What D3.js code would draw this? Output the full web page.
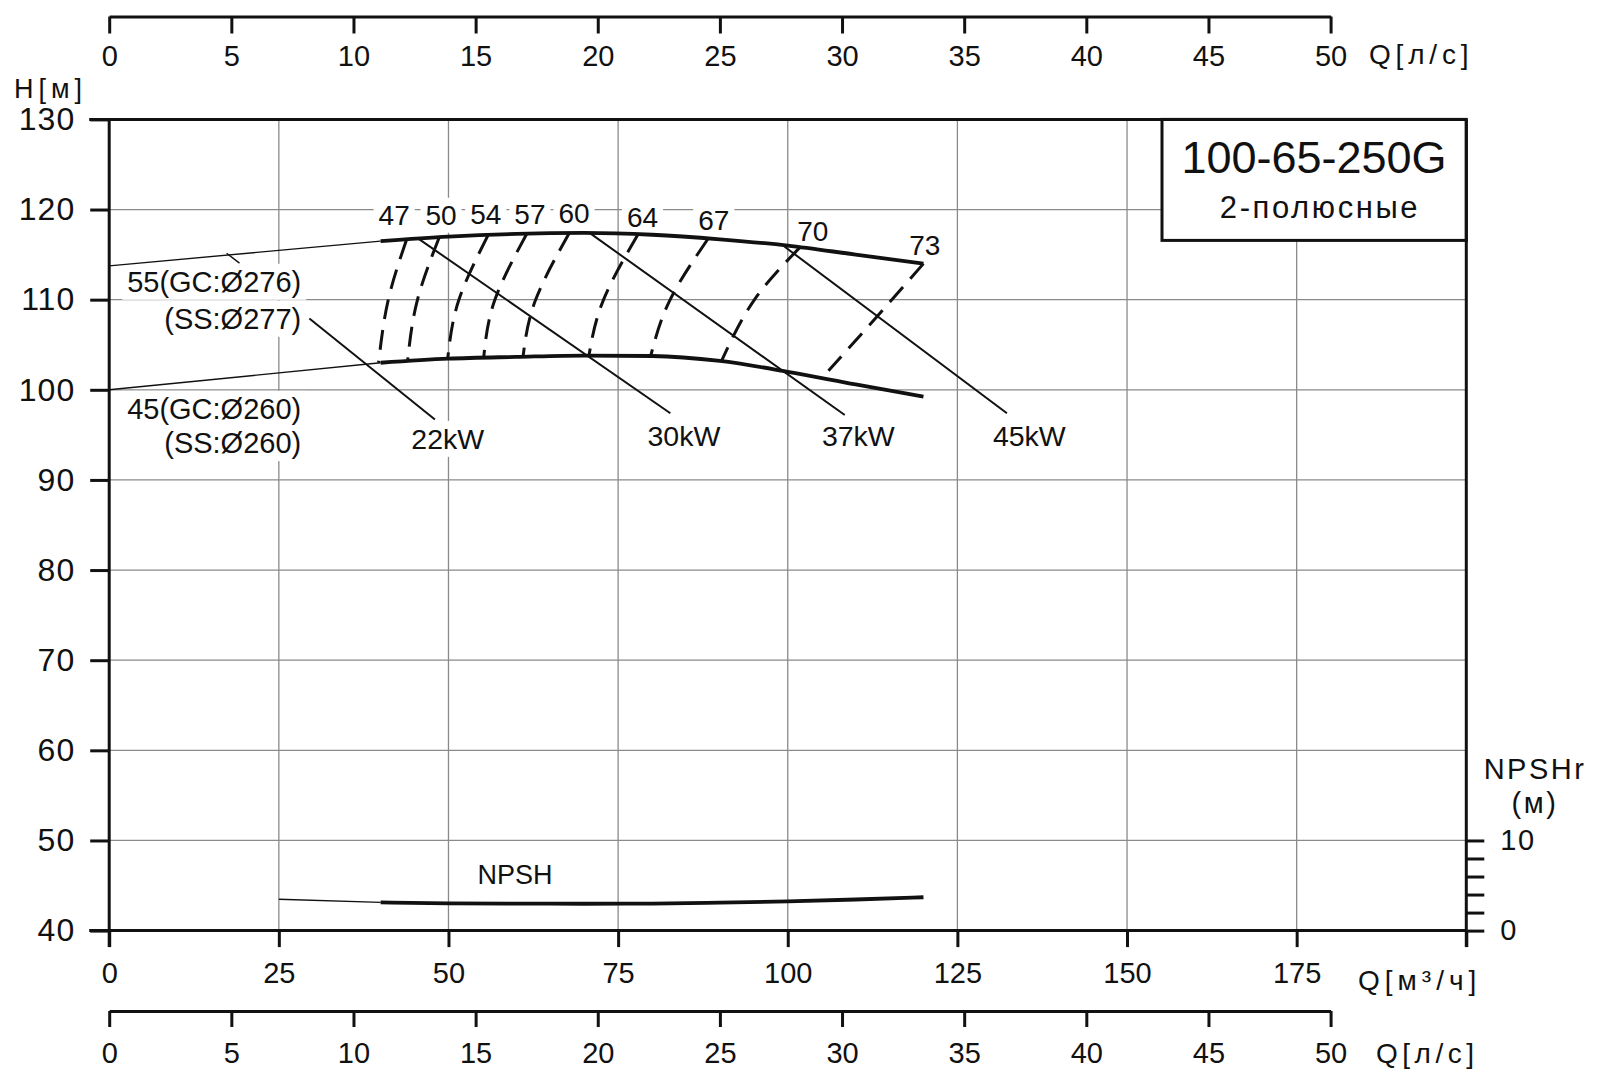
<!DOCTYPE html>
<html>
<head>
<meta charset="utf-8">
<script src="https://cdn.jsdelivr.net/npm/d3@7"></script>
<style>
  body { margin: 0; background: #fff; }
  text { font-family: "Liberation Sans", Arial, sans-serif; fill: #111; }
</style>
</head>
<body>
<script>
// axis ticks
var qM3hTicks = [0, 25, 50, 75, 100, 125, 150, 175, 200];
var qLsTicks = [0, 5, 10, 15, 20, 25, 30, 35, 40, 45, 50];
var headTicks = [40, 50, 60, 70, 80, 90, 100, 110, 120, 130];
var npshTicks = [0, 2, 4, 6, 8, 10];

// H-Q curves for max / min impeller and NPSH (Q in m3/h)
var curveQ = [40, 50, 60, 70, 80, 90, 100, 110, 120];
var headMax = [116.5, 117.0, 117.3, 117.4, 117.2, 116.7, 116.0, 115.0, 114.0];
var headMin = [103.0, 103.45, 103.65, 103.8, 103.75, 103.2, 102.0, 100.6, 99.25];
var npsh = [3.13, 3.02, 2.99, 2.98, 3.0, 3.1, 3.25, 3.45, 3.7];

// thin extensions outside operating range
var extQ = [0, 40];
var headMaxExt = [113.75, 116.5];
var headMinExt = [100.0, 103.0];
var npshExtQ = [25, 40];
var npshExt = [3.47, 3.13];

// efficiency iso-lines (%)
var effLabels = ['47', '50', '54', '57', '60', '64', '67', '70', '73'];
var effTopQ = [43.8, 48.6, 55.8, 61.5, 67.8, 77.9, 88.2, 101.8, 120.0];
var effTopH = [116.6, 116.85, 117.1, 117.25, 117.4, 117.2, 116.7, 115.8, 114.0];
var effMidQ = [41.1, 45.4, 51.5, 56.8, 62.8, 72.8, 82.6, 95.0, 113.0];
var effMidH = [109.9, 109.9, 109.9, 109.9, 109.9, 109.9, 109.9, 109.9, 108.0];
var effBotQ = [39.7, 44.0, 49.9, 55.2, 61.0, 70.7, 79.8, 90.2, 106.0];
var effBotH = [103.0, 103.4, 103.55, 103.65, 103.75, 103.8, 103.75, 103.15, 102.1];
var effLabelQ = [42.0, 48.9, 55.5, 62.0, 68.5, 78.6, 89.1, 103.7, 120.2];
var effLabelH = [119.4, 119.4, 119.45, 119.45, 119.55, 119.2, 118.85, 117.6, 116.05];

// motor power lines
var kwLabels = ['22kW', '30kW', '37kW', '45kW'];
var kwFromQ = [29.5, 45.5, 70.9, 99.5];
var kwFromH = [107.9, 116.8, 117.35, 115.9];
var kwToQ = [48.0, 82.7, 108.4, 132.3];
var kwToH = [96.7, 97.4, 97.2, 97.4];
var kwLabelQ = [49.9, 84.7, 110.4, 135.6];
var kwLabelH = [94.55, 94.9, 94.9, 94.9];

// impeller labels
var diaLabels = ['55(GC:Ø276)', '(SS:Ø277)', '45(GC:Ø260)', '(SS:Ø260)'];
var diaLabelQ = 28.3;
var diaLabelH = [112.0, 107.9, 97.9, 94.1];
var diaTickQ = [17.3, 19.2];
var diaTickH = [115.15, 114.05];

var width = 1600, height = 1086;

var svg = d3.select('body').append('svg')
    .attr('width', width).attr('height', height);

var x = d3.scaleLinear().domain([0, 200]).range([109.2, 1466.3]);
var y = d3.scaleLinear().domain([40, 130]).range([930.6, 119.4]);
var xLs = d3.scaleLinear().domain([0, 50]).range([x(0), x(180)]);
var yN = d3.scaleLinear().domain([0, 10]).range([y(40), y(50)]);

// grid
svg.append('g').selectAll('line')
    .data(qM3hTicks.filter(function (d) { return d > 0 && d < 200; }))
    .enter().append('line')
    .attr('x1', function (d) { return x(d); }).attr('x2', function (d) { return x(d); })
    .attr('y1', y(130)).attr('y2', y(40))
    .attr('stroke', '#8a8a8a').attr('stroke-width', 1.3);

svg.append('g').selectAll('line')
    .data(headTicks.filter(function (d) { return d > 40 && d < 130; }))
    .enter().append('line')
    .attr('x1', x(0)).attr('x2', x(200))
    .attr('y1', function (d) { return y(d); }).attr('y2', function (d) { return y(d); })
    .attr('stroke', '#8a8a8a').attr('stroke-width', 1.3);

// title box
svg.append('rect')
    .attr('x', 1162).attr('y', y(130)).attr('width', x(200) - 1162).attr('height', 121)
    .attr('fill', '#fff').attr('stroke', '#111').attr('stroke-width', 3);
svg.append('text').attr('x', 1314).attr('y', 173)
    .attr('text-anchor', 'middle').style('font-size', '45px').text('100-65-250G');
svg.append('text').attr('x', 1320).attr('y', 218)
    .attr('text-anchor', 'middle').style('font-size', '31px').style('letter-spacing', '2.6px')
    .text('2-полюсные');

// label layer (white backing so grid is interrupted)
var bgLayer = svg.append('g');
var curveLayer = svg.append('g');
var textLayer = svg.append('g');

function addLabel(txt, px, py, size, anchor) {
    var t = textLayer.append('text')
        .attr('x', px).attr('y', py)
        .attr('dy', '0.35em')
        .attr('text-anchor', anchor || 'middle')
        .style('font-size', size + 'px')
        .text(txt);
    var b = t.node().getBBox();
    bgLayer.append('rect')
        .attr('x', b.x - 5).attr('y', b.y - 2)
        .attr('width', b.width + 10).attr('height', b.height + 4)
        .attr('fill', '#fff');
    return t;
}

var line = d3.line()
    .x(function (d) { return x(d[0]); })
    .y(function (d) { return y(d[1]); })
    .curve(d3.curveMonotoneX);

function pairs(qs, hs) {
    return qs.map(function (q, i) { return [q, hs[i]]; });
}

// thin extensions
curveLayer.append('path').attr('d', line(pairs(extQ, headMaxExt)))
    .attr('fill', 'none').attr('stroke', '#111').attr('stroke-width', 1.4);
curveLayer.append('path').attr('d', line(pairs(extQ, headMinExt)))
    .attr('fill', 'none').attr('stroke', '#111').attr('stroke-width', 1.4);
curveLayer.append('path')
    .attr('d', d3.line().x(function (d) { return x(d[0]); }).y(function (d) { return yN(d[1]); })(pairs(npshExtQ, npshExt)))
    .attr('fill', 'none').attr('stroke', '#111').attr('stroke-width', 1.4);
curveLayer.append('path').attr('d', d3.line()(diaTickQ.map(function (q, i) { return [x(q), y(diaTickH[i])]; })))
    .attr('fill', 'none').attr('stroke', '#111').attr('stroke-width', 1.4);

// efficiency iso-lines
var isoLine = d3.line()
    .x(function (d) { return x(d[0]); })
    .y(function (d) { return y(d[1]); })
    .curve(d3.curveNatural);
effLabels.forEach(function (lab, i) {
    var pts = [[effTopQ[i], effTopH[i]], [effMidQ[i], effMidH[i]], [effBotQ[i], effBotH[i]]];
    curveLayer.append('path').attr('d', isoLine(pts))
        .attr('fill', 'none').attr('stroke', '#111').attr('stroke-width', 3)
        .attr('stroke-dasharray', '20,11');
    addLabel(lab, x(effLabelQ[i]), y(effLabelH[i]), 28);
});

// power lines
kwLabels.forEach(function (lab, i) {
    curveLayer.append('line')
        .attr('x1', x(kwFromQ[i])).attr('y1', y(kwFromH[i]))
        .attr('x2', x(kwToQ[i])).attr('y2', y(kwToH[i]))
        .attr('stroke', '#111').attr('stroke-width', 2);
    addLabel(lab, x(kwLabelQ[i]), y(kwLabelH[i]), 28.5);
});

// main curves
curveLayer.append('path').attr('d', line(pairs(curveQ, headMax)))
    .attr('fill', 'none').attr('stroke', '#111').attr('stroke-width', 3.8);
curveLayer.append('path').attr('d', line(pairs(curveQ, headMin)))
    .attr('fill', 'none').attr('stroke', '#111').attr('stroke-width', 3.8);
curveLayer.append('path')
    .attr('d', d3.line().x(function (d) { return x(d[0]); }).y(function (d) { return yN(d[1]); })
        .curve(d3.curveMonotoneX)(pairs(curveQ, npsh)))
    .attr('fill', 'none').attr('stroke', '#111').attr('stroke-width', 3.8);

diaLabels.forEach(function (lab, i) {
    addLabel(lab, x(diaLabelQ), y(diaLabelH[i]), 29, 'end');
});
addLabel('NPSH', x(59.8), yN(6.2), 27);

// axes
function styleAxis(g, size) {
    g.select('.domain').attr('stroke', '#111').attr('stroke-width', 3);
    g.selectAll('.tick line').attr('stroke', '#111').attr('stroke-width', 3);
    g.selectAll('.tick text').attr('fill', '#111')
        .style('font-family', '"Liberation Sans", Arial, sans-serif')
        .style('font-size', size + 'px');
}

var axisBottom = svg.append('g')
    .attr('transform', 'translate(0,' + y(40) + ')')
    .call(d3.axisBottom(x).tickValues(qM3hTicks).tickSizeInner(16.5).tickSizeOuter(0).tickPadding(15.4)
        .tickFormat(function (d) { return d === 200 ? '' : d; }));
styleAxis(axisBottom, 29);
axisBottom.select('.domain').attr('d', 'M' + (x(0) - 20) + ',0H' + x(200));

var axisLeft = svg.append('g')
    .attr('transform', 'translate(' + x(0) + ',0)')
    .call(d3.axisLeft(y).tickValues(headTicks).tickSizeInner(19).tickSizeOuter(0).tickPadding(15));
styleAxis(axisLeft, 32);
axisLeft.selectAll('.tick text').style('letter-spacing', '1px');
axisLeft.select('.domain').attr('d', 'M0,' + y(130) + 'V' + (y(40) + 16.5));

// top frame line and right axis
svg.append('line').attr('x1', x(0) - 20).attr('x2', x(200))
    .attr('y1', y(130)).attr('y2', y(130))
    .attr('stroke', '#111').attr('stroke-width', 3);

var axisRight = svg.append('g')
    .attr('transform', 'translate(' + x(200) + ',0)')
    .call(d3.axisRight(yN).tickValues(npshTicks).tickSizeInner(18).tickSizeOuter(0).tickPadding(16)
        .tickFormat(function (d) { return (d === 0 || d === 10) ? d : ''; }));
styleAxis(axisRight, 29);
axisRight.selectAll('.tick text').style('letter-spacing', '1.5px');
axisRight.select('.domain').attr('d', 'M0,' + y(130) + 'V' + (y(40) + 16.5));

// flow in l/s, top and bottom
var axisTopLs = svg.append('g')
    .attr('transform', 'translate(0,16.5)')
    .call(d3.axisBottom(xLs).tickValues(qLsTicks).tickSizeInner(17).tickSizeOuter(0).tickPadding(11.6));
styleAxis(axisTopLs, 29);

var axisBotLs = svg.append('g')
    .attr('transform', 'translate(0,1011)')
    .call(d3.axisBottom(xLs).tickValues(qLsTicks).tickSizeInner(16).tickSizeOuter(0).tickPadding(15.6));
styleAxis(axisBotLs, 29);

// axis titles
function axisTitle(txt, px, py, size, spacing, anchor) {
    svg.append('text').attr('x', px).attr('y', py)
        .attr('dy', '0.35em')
        .attr('text-anchor', anchor || 'start')
        .style('font-size', size + 'px')
        .style('letter-spacing', spacing + 'px')
        .text(txt);
}
axisTitle('Q[л/с]', 1369, 54, 28, 4.8);
axisTitle('Q[м³/ч]', 1358, 980, 28, 5);
axisTitle('Q[л/с]', 1376, 1053, 28, 4.5);
axisTitle('H[м]', 14, 89, 27, 5);
axisTitle('NPSHr', 1535, 769, 29, 2.5, 'middle');
axisTitle('(м)', 1535, 803, 29, 2.5, 'middle');
</script>
</body>
</html>
